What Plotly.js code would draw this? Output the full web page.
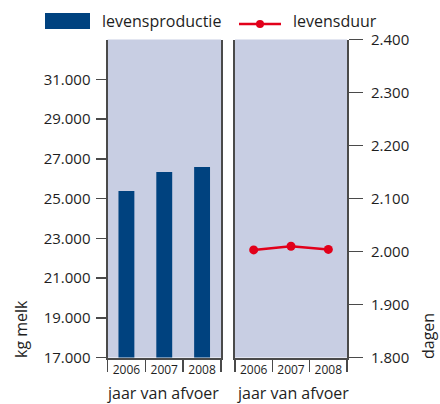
<!DOCTYPE html>
<html>
<head>
<meta charset="utf-8">
<script src="https://cdn.plot.ly/plotly-3.0.1.min.js"></script>
<style>
html,body{margin:0;padding:0;background:#fff;}
#chart{width:440px;height:404px;}
</style>
</head>
<body>
<div id="chart"></div>
<script>
// ---- data ----
var years = ['2006', '2007', '2008'];
var levensproductie = [25380, 26330, 26580];   // kg melk
var levensduur = [2003, 2010, 2004];           // dagen
var leftTicks = [17000, 19000, 21000, 23000, 25000, 27000, 29000, 31000];
var rightTicks = [1800, 1900, 2000, 2100, 2200, 2300, 2400];
var boundaryTicks = [-0.5, 0.5, 1.5, 2.5];
var seriesNames = ['levensproductie', 'levensduur'];
var axisTitles = {left: 'kg melk', right: 'dagen', x: 'jaar van afvoer'};

// ---- styles ----
var W = 440, H = 404;
var FONT = 'Open Sans, Noto Sans, sans-serif';
var TXT = '#1e1e1e';
var AXC = '#4a4a4a';
var BAR = '#00427f';
var RED = '#e2001a';
var BG = '#c8cee3';
function px(x){ return x / W; }
function py(y){ return (H - y) / H; }
var yDom = [py(357.5), py(39.5)];
var x1Dom = [px(107.5), px(221)];
var x2Dom = [px(235), px(347)];
var idx = years.map(function(_, i){ return i; });

var traces = [
  {type: 'bar', x: idx, y: levensproductie, name: seriesNames[0],
   xaxis: 'x', yaxis: 'y', marker: {color: BAR}, showlegend: false, hoverinfo: 'skip'},
  {type: 'scatter', mode: 'lines+markers', x: idx, y: levensduur, name: seriesNames[1],
   xaxis: 'x2', yaxis: 'y2', line: {color: RED, width: 2.5},
   marker: {color: RED, size: 9}, showlegend: false, hoverinfo: 'skip', cliponaxis: false},
  // invisible helpers so the boundary-tick axes get drawn
  {type: 'scatter', mode: 'markers', x: idx, y: levensproductie, xaxis: 'x3', yaxis: 'y',
   marker: {opacity: 0}, showlegend: false, hoverinfo: 'skip'},
  {type: 'scatter', mode: 'markers', x: idx, y: levensduur, xaxis: 'x4', yaxis: 'y2',
   marker: {opacity: 0}, showlegend: false, hoverinfo: 'skip'}
];

function xLab(dom, anchor){
  return {domain: dom, anchor: anchor, range: [-0.5, 2.5], type: 'linear',
    tickvals: idx, ticktext: years, ticks: '', showgrid: false, zeroline: false,
    showline: true, linecolor: AXC, linewidth: 2, fixedrange: true,
    tickfont: {family: FONT, size: 12, color: TXT}};
}
function xBound(over, anchor){
  return {overlaying: over, anchor: anchor, range: [-0.5, 2.5], type: 'linear',
    tickvals: boundaryTicks, ticks: 'outside', ticklen: 13, tickwidth: 1.5,
    tickcolor: AXC, showticklabels: false, showgrid: false, zeroline: false,
    showline: false, fixedrange: true};
}

var layout = {
  width: W, height: H,
  margin: {l: 0, r: 0, t: 0, b: 0, pad: 0},
  paper_bgcolor: '#ffffff',
  plot_bgcolor: BG,
  separators: ',.',
  bargap: 0.58,
  showlegend: false,
  hovermode: false,
  font: {family: FONT, color: TXT},
  xaxis: xLab(x1Dom, 'y'),
  xaxis2: xLab(x2Dom, 'y2'),
  xaxis3: xBound('x', 'y'),
  xaxis4: xBound('x2', 'y2'),
  yaxis: {domain: yDom, anchor: 'x', side: 'left', range: [17000, 33000],
    tickvals: leftTicks, tickformat: ',d', ticks: 'outside', ticklen: 10,
    tickwidth: 1.5, tickcolor: AXC, showline: true, mirror: true,
    linecolor: AXC, linewidth: 2, showgrid: false, zeroline: false, fixedrange: true,
    ticklabelstandoff: 2,
    tickfont: {family: FONT, size: 15, color: TXT}},
  yaxis2: {domain: yDom, anchor: 'x2', side: 'right', range: [1800, 2400],
    tickvals: rightTicks, tickformat: ',d', ticks: 'outside', ticklen: 14,
    tickwidth: 1.5, tickcolor: AXC, showline: true, mirror: true,
    linecolor: AXC, linewidth: 2, showgrid: false, zeroline: false, fixedrange: true,
    ticklabelstandoff: 5,
    tickfont: {family: FONT, size: 15, color: TXT}},
  shapes: [
    {type: 'rect', xref: 'paper', yref: 'paper', x0: px(45), x1: px(90),
     y0: py(29), y1: py(13), fillcolor: BAR, line: {width: 0}},
    {type: 'line', xref: 'paper', yref: 'paper', x0: px(239), x1: px(281),
     y0: py(24), y1: py(24), line: {color: RED, width: 2.5}},
    {type: 'circle', xref: 'paper', yref: 'paper', x0: px(256), x1: px(264),
     y0: py(28), y1: py(20), fillcolor: RED, line: {width: 0}}
  ],
  annotations: [
    {text: seriesNames[0], xref: 'paper', yref: 'paper', x: px(100), y: py(21),
     xanchor: 'left', yanchor: 'middle', showarrow: false,
     font: {family: FONT, size: 16, color: TXT}},
    {text: seriesNames[1], xref: 'paper', yref: 'paper', x: px(291), y: py(21),
     xanchor: 'left', yanchor: 'middle', showarrow: false,
     font: {family: FONT, size: 16, color: TXT}},
    {text: axisTitles.x, xref: 'paper', yref: 'paper', x: px(163), y: py(392.5),
     xanchor: 'center', yanchor: 'middle', showarrow: false,
     font: {family: FONT, size: 16, color: TXT}},
    {text: axisTitles.x, xref: 'paper', yref: 'paper', x: px(293), y: py(392.5),
     xanchor: 'center', yanchor: 'middle', showarrow: false,
     font: {family: FONT, size: 16, color: TXT}},
    {text: axisTitles.left, xref: 'paper', yref: 'paper', x: px(21), y: py(360),
     xanchor: 'center', yanchor: 'bottom', textangle: -90, showarrow: false,
     font: {family: FONT, size: 16, color: TXT}},
    {text: axisTitles.right, xref: 'paper', yref: 'paper', x: px(428), y: py(361),
     xanchor: 'center', yanchor: 'bottom', textangle: -90, showarrow: false,
     font: {family: FONT, size: 16, color: TXT}}
  ]
};

Plotly.newPlot('chart', traces, layout, {displayModeBar: false, staticPlot: true});
</script>
</body>
</html>
